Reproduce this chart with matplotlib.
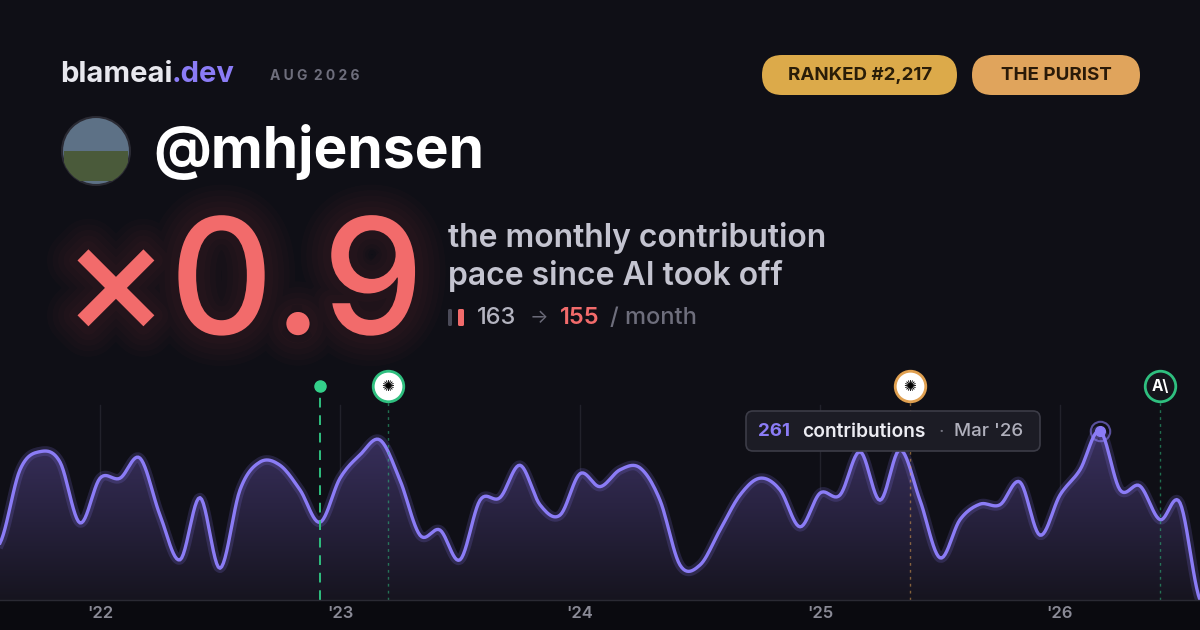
import numpy as np
import matplotlib
matplotlib.use("Agg")
import matplotlib.pyplot as plt
from matplotlib.patches import FancyBboxPatch, Circle, Rectangle
from matplotlib.colors import LinearSegmentedColormap
import matplotlib.patheffects as pe

plt.rcParams['font.family'] = ['Inter', 'DejaVu Sans']

# monthly contributions, Aug '21 .. Aug '26
contrib = [88, 201, 229, 213, 119, 188, 188, 219, 131, 62, 158, 49, 170, 213, 208,
           170, 120, 188, 224, 247, 185, 100, 108, 62, 154, 158, 208, 147, 131, 195,
           175, 201, 204, 154, 54, 54, 108, 162, 188, 170, 113, 165, 162, 229, 154,
           232, 154, 65, 124, 148, 147, 182, 100, 162, 201, 261, 170, 176, 124, 150, 0]
year_labels = ["'22", "'23", "'24", "'25", "'26"]
year_idx = [5, 17, 29, 41, 53]
# events: (month index, ring colour, glyph)
events = [(19.4, '#2fbf7f', '✺'), (45.5, '#e0a050', '✺'), (58, '#2fbf7f', 'A\\')]
launch_idx = 16
peak_idx = 55
before_pace, after_pace, multiplier = 163, 155, 0.9

BG = '#0f0f16'
PURPLE = '#8b7cf6'
CORAL = '#f26b6b'

fig = plt.figure(figsize=(12, 6.3), dpi=100, facecolor=BG)

# overlay in pixel coords
ov = fig.add_axes([0, 0, 1, 1], zorder=5)
ov.set_xlim(0, 1200)
ov.set_ylim(630, 0)
ov.axis('off')
ov.patch.set_alpha(0)

# chart axes
ax = fig.add_axes([0, 30 / 630, 1, 230 / 630], zorder=2)
ax.set_facecolor('none')
ax.set_xlim(0, 60)
ax.set_ylim(0, 355)
ax.axis('off')

fig.patches.append(Rectangle((0, 0), 1, 30 / 630, transform=fig.transFigure,
                             color='#0a0a0f', zorder=0))

# smooth display curve (Catmull-Rom) through monthly points
y = np.array(contrib, float)
x = np.arange(len(y))
p = np.concatenate([[y[0]], y, [y[-1]]])
xs, ys = [], []
t = np.linspace(0, 1, 12, endpoint=False)
for i in range(len(y) - 1):
    p0, p1, p2, p3 = p[i], p[i + 1], p[i + 2], p[i + 3]
    seg = 0.5 * (2 * p1 + (-p0 + p2) * t + (2 * p0 - 5 * p1 + 4 * p2 - p3) * t ** 2
                 + (-p0 + 3 * p1 - 3 * p2 + p3) * t ** 3)
    xs.extend(i + t)
    ys.extend(seg)
xs.append(x[-1]); ys.append(y[-1])
xs, ys = np.array(xs), np.clip(np.array(ys), 0, None)

for xi in year_idx:
    ax.axvline(xi, ymin=0, ymax=0.85, color='#22222b', lw=1, zorder=1)

poly = ax.fill_between(xs, ys, 0, color='none')
grad = np.linspace(0, 1, 256).reshape(-1, 1)
cmap = LinearSegmentedColormap.from_list('g', ['#16141f', '#3a3160'])
im = ax.imshow(grad, aspect='auto', cmap=cmap, origin='lower',
               extent=[0, 60, 0, 270], zorder=2)
im.set_clip_path(poly.get_paths()[0], transform=ax.transData)
ax.plot(xs, ys, color=PURPLE, lw=7, alpha=0.18, zorder=3)
ax.plot(xs, ys, color=PURPLE, lw=2.4, zorder=4)

# launch marker
ax.axvline(launch_idx, ymin=0, ymax=0.93, color='#2fbf7f', lw=1.4, ls=(0, (5, 4)), zorder=5)
ax.plot(launch_idx, 330, 'o', color='#34d08a', ms=8, zorder=6, clip_on=False)

# event markers
for ei, col, g in events:
    ax.axvline(ei, ymin=0, ymax=0.9, color=col, lw=1, ls=(0, (2, 3)), alpha=0.55, zorder=5)
    ax.plot(ei, 330, 'o', ms=22, mfc='white' if g != 'A\\' else '#15151c',
            mec=col, mew=2, zorder=7, clip_on=False)
    ax.text(ei, 330, g, ha='center', va='center', fontsize=11, fontweight='bold',
            color='black' if g != 'A\\' else 'white', zorder=8)

# peak marker + tooltip
ax.plot(peak_idx, contrib[peak_idx], 'o', ms=14, mfc='none', mec=PURPLE, mew=1.5,
        alpha=0.6, zorder=6)
ax.plot(peak_idx, contrib[peak_idx], 'o', ms=7, color=PURPLE, zorder=6)
ov.add_patch(FancyBboxPatch((746, 411), 294, 40, boxstyle='round,pad=0,rounding_size=7',
                            fc='#1c1c25', ec='#3c3c47', lw=1.2))
ov.text(758, 432, str(contrib[peak_idx]), color=PURPLE, fontsize=13.5, fontweight='bold', va='center')
ov.text(802, 432, 'contributions', color='#ececf2', fontsize=13.8, fontweight='semibold', va='center')
ov.text(939, 432, '·', color='#777784', fontsize=13.5, va='center')
ov.text(954, 432, "Mar '26", color='#b0b0bc', fontsize=13.5, fontweight='medium', va='center')

# year labels
for lab, xi in zip(year_labels, year_idx):
    ov.text(xi * 20, 614, lab, color='#8a8a96', fontsize=12, fontweight='semibold',
            ha='center', va='center')
ov.axhline(600, color='#2a2a33', lw=1)

# header
ov.text(60, 75, 'blameai', color='#e8e8ee', fontsize=21, fontweight='bold', va='center')
ov.text(172, 75, '.dev', color=PURPLE, fontsize=21, fontweight='bold', va='center')
ov.text(270, 76, 'A U G  2 0 2 6', color='#6e6e7c', fontsize=10, fontweight='bold', va='center')

ov.add_patch(FancyBboxPatch((762, 55), 195, 40, boxstyle='round,pad=0,rounding_size=20',
                            fc='#dcaa4a', ec='none'))
ov.text(860, 75, 'RANKED #2,217', color='#2a1d08', fontsize=13.5, fontweight='bold',
        ha='center', va='center')
ov.add_patch(FancyBboxPatch((972, 55), 168, 40, boxstyle='round,pad=0,rounding_size=20',
                            fc='#e0a45c', ec='none'))
ov.text(1056, 75, 'THE PURIST', color='#2a1a08', fontsize=13.5, fontweight='bold',
        ha='center', va='center')

# avatar
ov.add_patch(Circle((96, 151), 34, fc='#5d7186', ec='#2a2a33', lw=1.5))
ov.add_patch(Rectangle((64, 151), 64, 30, fc='#4a5a3a', ec='none',
                       clip_path=Circle((96, 151), 34, transform=ov.transData)))
ov.text(153, 152, '@mhjensen', color='white', fontsize=41, fontweight='bold', va='center')

# big multiplier with soft glow
big = ov.text(62, 292, f'×{multiplier}', color=CORAL, fontsize=116, fontweight='medium',
              va='center')
glow = [pe.Stroke(linewidth=w, foreground=CORAL, alpha=0.018) for w in (44, 36, 28, 20, 12)]
big.set_path_effects(glow + [pe.Normal()])

ov.text(448, 238, 'the monthly contribution', color='#c4c4d0', fontsize=23,
        fontweight='semibold', va='center')
ov.text(448, 276, 'pace since AI took off', color='#c4c4d0', fontsize=23,
        fontweight='semibold', va='center')

ov.add_patch(FancyBboxPatch((448, 309), 4, 17, boxstyle='round,pad=0,rounding_size=1.5',
                            fc='#4a4a58', ec='none'))
ov.add_patch(FancyBboxPatch((458, 309), 6, 17, boxstyle='round,pad=0,rounding_size=1.5',
                            fc=CORAL, ec='none'))
ov.text(477, 318, str(before_pace), color='#b4b4c0', fontsize=17, fontweight='medium', va='center')
ov.text(530, 318, '→', color='#6a6a78', fontsize=14, va='center')
ov.text(560, 318, str(after_pace), color=CORAL, fontsize=17, fontweight='semibold', va='center')
ov.text(610, 318, '/ month', color='#6e6e7c', fontsize=17, fontweight='medium', va='center')

fig.savefig('out.png', dpi=100, facecolor=BG)
